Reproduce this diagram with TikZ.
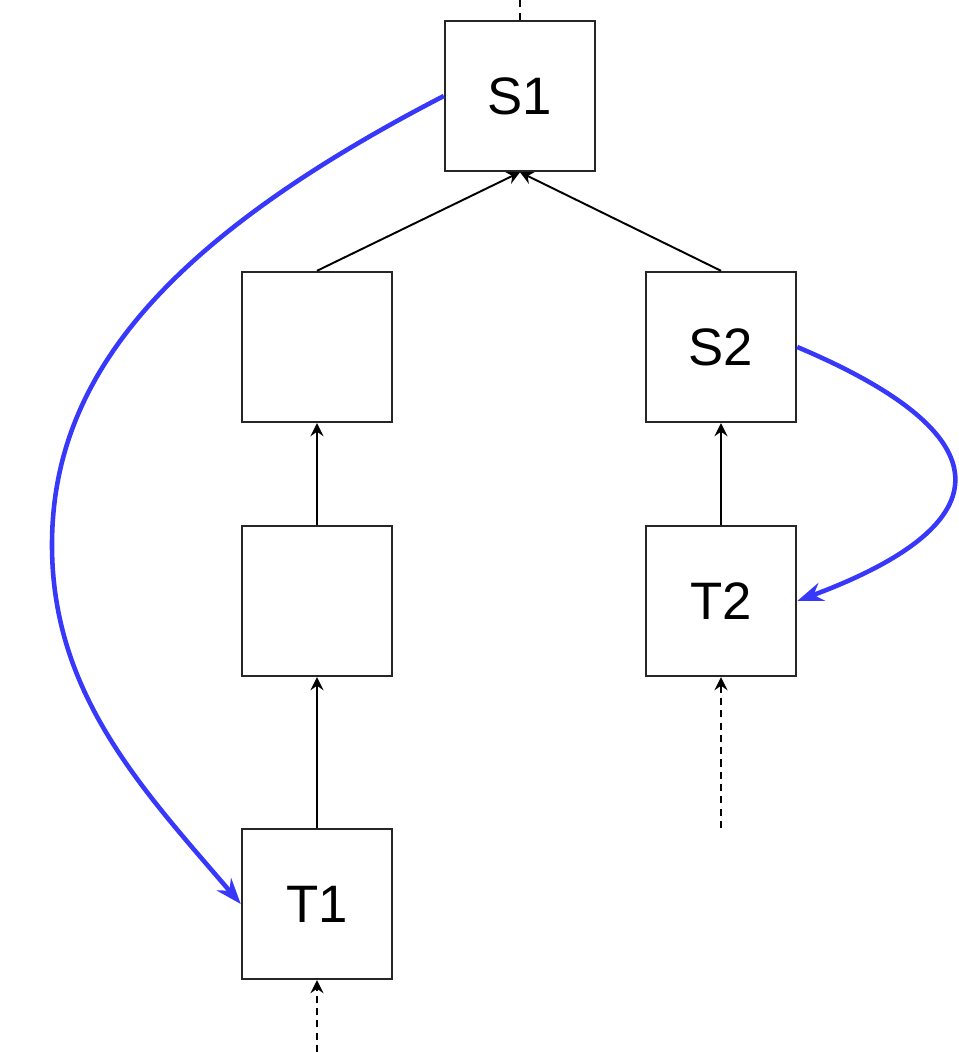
\documentclass[tikz,border=0pt]{standalone}
\usepackage{fontspec}
\setmainfont{Liberation Sans}
\usetikzlibrary{arrows.meta}
\definecolor{linkblue}{RGB}{56,56,250}

\begin{document}
\begin{tikzpicture}
[x=0.02cm,y=-0.02cm,
box/.style={rectangle,draw=black!85,line width=1.4pt,minimum size=3cm,inner sep=0pt,font=\fontsize{30}{36}\selectfont},
up/.style={-{Stealth[length=2.6mm,width=2.6mm,inset=0.9mm]},line width=1.1pt},
feed/.style={up,dash pattern=on 4pt off 3pt},
jump/.style={-{Stealth[length=5.2mm,width=3.8mm,inset=1.7mm]},draw=linkblue,line width=2.6pt}]
\useasboundingbox (0,0) rectangle (959,1052);

\node[box] (s1) at (520,96) {S1};
\node[box] (l1) at (317,347) {};
\node[box] (s2) at (721,347) {S2};
\node[box] (l2) at (317,601) {};
\node[box] (t2) at (721,601) {T2};
\node[box] (t1) at (317,904) {T1};

\coordinate (s1out) at (520,0);
\coordinate (t2in) at (721,828);
\coordinate (t1in) at (317,1052);
\coordinate (lc) at (52,545);

\draw [up] (l1.north) -- (s1.south);
\draw [up] (s2.north) -- (s1.south);
\draw [up] (l2.north) -- (l1.south);
\draw [up] (t1.north) -- (l2.south);
\draw [up] (t2.north) -- (s2.south);

\draw [line width=1.1pt,dash pattern=on 4pt off 3pt] (s1.north) -- (s1out);
\draw [feed] (t2in) -- (t2.south);
\draw [feed] (t1in) -- (t1.south);

% blue jumps
\draw [jump] (s1.west) .. controls +(-290,150) and +(0,-160) .. (lc)
  .. controls +(0,150) and +(-97.5,-114) .. (t1.west);
\draw [jump] (s2.east) .. controls +(206,87) and +(210.6,-78.4) .. (t2.east);
\end{tikzpicture}
\end{document}
